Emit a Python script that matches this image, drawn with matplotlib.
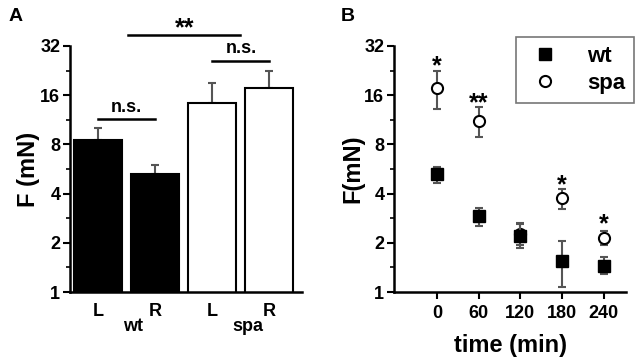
import matplotlib
matplotlib.use("Agg")
import matplotlib.pyplot as plt
import numpy as np
from matplotlib.lines import Line2D
from matplotlib.ticker import FixedLocator, NullFormatter

plt.rcParams['font.family'] = ['Liberation Sans', 'DejaVu Sans']
plt.rcParams['font.weight'] = 'bold'

# panel A data
bar_labels = ["L", "R", "L", "R"]
bar_means = [8.5, 5.3, 14.3, 17.8]
bar_err_up = [1.6, 0.65, 4.6, 4.7]
bar_colors = ["black", "black", "white", "white"]
groups = ["wt", "spa"]

# panel B data
times = [0, 60, 120, 180, 240]
wt_mean = [5.25, 2.92, 2.2, 1.54, 1.45]
wt_lo = [4.63, 2.55, 1.87, 1.07, 1.28]
wt_hi = [5.8, 3.27, 2.65, 2.06, 1.63]
spa_mean = [17.8, 11.2, 2.25, 3.74, 2.15]
spa_lo = [13.2, 8.9, 1.95, 3.2, 1.94]
spa_hi = [22.4, 13.6, 2.6, 4.25, 2.37]
stars = ["*", "**", "", "*", "*"]
star_y = [26.3, 15.7, 0, 4.98, 2.84]

yticks = [1, 2, 4, 8, 16, 32]
ecol = "#555555"

fig = plt.figure(figsize=(6.38, 3.61), dpi=100)
axA = fig.add_axes([0.1097, 0.1911, 0.3637, 0.6815])
axB = fig.add_axes([0.6176, 0.1911, 0.3636, 0.6815])


def style_log_y(ax, label):
    ax.set_yscale("log", base=2)
    ax.set_ylim(1, 32)
    ax.yaxis.set_major_locator(FixedLocator(yticks))
    ax.set_yticklabels([str(t) for t in yticks])
    ax.yaxis.set_minor_locator(FixedLocator([2 ** (k + 0.5) for k in range(5)]))
    ax.yaxis.set_minor_formatter(NullFormatter())
    ax.tick_params(axis="y", which="major", length=5, width=1.5, labelsize=13, pad=2)
    ax.tick_params(axis="y", which="minor", length=3, width=1.2)
    for s in ["top", "right"]:
        ax.spines[s].set_visible(False)
    for s in ["left", "bottom"]:
        ax.spines[s].set_linewidth(1.8)
    ax.set_ylabel(label, fontsize=17, fontweight="bold", labelpad=0)


# ---- panel A
x = np.arange(len(bar_means))
axA.bar(x, bar_means, width=0.84, color=bar_colors, edgecolor="black", linewidth=1.5,
        zorder=2)
axA.errorbar(x, bar_means, yerr=[np.zeros(4), bar_err_up], fmt="none", ecolor=ecol,
             elinewidth=1.5, capsize=3, capthick=1.5, zorder=1)
style_log_y(axA, "F (mN)")
axA.set_xlim(-0.49, 3.57)
axA.set_xticks(x)
axA.set_xticklabels(bar_labels)
axA.tick_params(axis="x", length=0, labelsize=13, pad=8)
trA = axA.get_xaxis_transform()
axA.text(0.61, -0.14, groups[0], transform=trA, ha="center", va="center", fontsize=13)
axA.text(2.63, -0.14, groups[1], transform=trA, ha="center", va="center", fontsize=13)
# significance lines
axA.plot([0, 1], [11.4, 11.4], color="black", lw=1.8)
axA.text(0.5, 12.0, "n.s.", ha="center", va="bottom", fontsize=13)
axA.plot([2, 3], [26, 26], color="black", lw=1.8)
axA.text(2.5, 27.3, "n.s.", ha="center", va="bottom", fontsize=13)
axA.plot([0.53, 2.49], [37.5, 37.5], color="black", lw=1.8, clip_on=False)
axA.annotate("**", xy=(1.51, 45.5), xytext=(0, -10), textcoords="offset points",
             ha="center", va="baseline", fontsize=18, annotation_clip=False)
fig.text(0.025, 0.955, "A", fontsize=14, ha="center", va="center")

# ---- panel B
t = np.array(times)
axB.errorbar(t, spa_mean,
             yerr=[np.array(spa_mean) - np.array(spa_lo), np.array(spa_hi) - np.array(spa_mean)],
             fmt="o", ms=8, mfc="white", mec="black", mew=1.5, ecolor=ecol,
             elinewidth=1.5, capsize=3, capthick=1.5, zorder=2)
axB.errorbar(t, wt_mean,
             yerr=[np.array(wt_mean) - np.array(wt_lo), np.array(wt_hi) - np.array(wt_mean)],
             fmt="s", ms=8, mfc="black", mec="black", ecolor=ecol,
             elinewidth=1.5, capsize=3, capthick=1.5, zorder=3)
style_log_y(axB, "F(mN)")
axB.set_xlim(-62, 272)
axB.set_xticks(times)
axB.tick_params(axis="x", length=5, width=1.5, labelsize=13, pad=4)
axB.set_xlabel("time (min)", fontsize=17, fontweight="bold", labelpad=9)
for xi, s, sy in zip(times, stars, star_y):
    if s:
        axB.annotate(s, xy=(xi, sy), xytext=(0, -10), textcoords="offset points",
                     ha="center", va="baseline", fontsize=18)
handles = [Line2D([], [], marker="s", ls="none", ms=8, mfc="black", mec="black"),
           Line2D([], [], marker="o", ls="none", ms=8, mfc="white", mec="black", mew=1.5)]
leg = axB.legend(handles, ["wt", "spa"], loc="upper right", bbox_to_anchor=(1.035, 1.035),
                 fontsize=16, frameon=True, fancybox=False, edgecolor="#555555",
                 handletextpad=1.0, borderpad=0.4, labelspacing=0.25, handlelength=1.8,
                 borderaxespad=0)
leg.get_frame().set_linewidth(1.2)
fig.text(0.545, 0.955, "B", fontsize=14, ha="center", va="center")

fig.savefig("out.png", dpi=100)
